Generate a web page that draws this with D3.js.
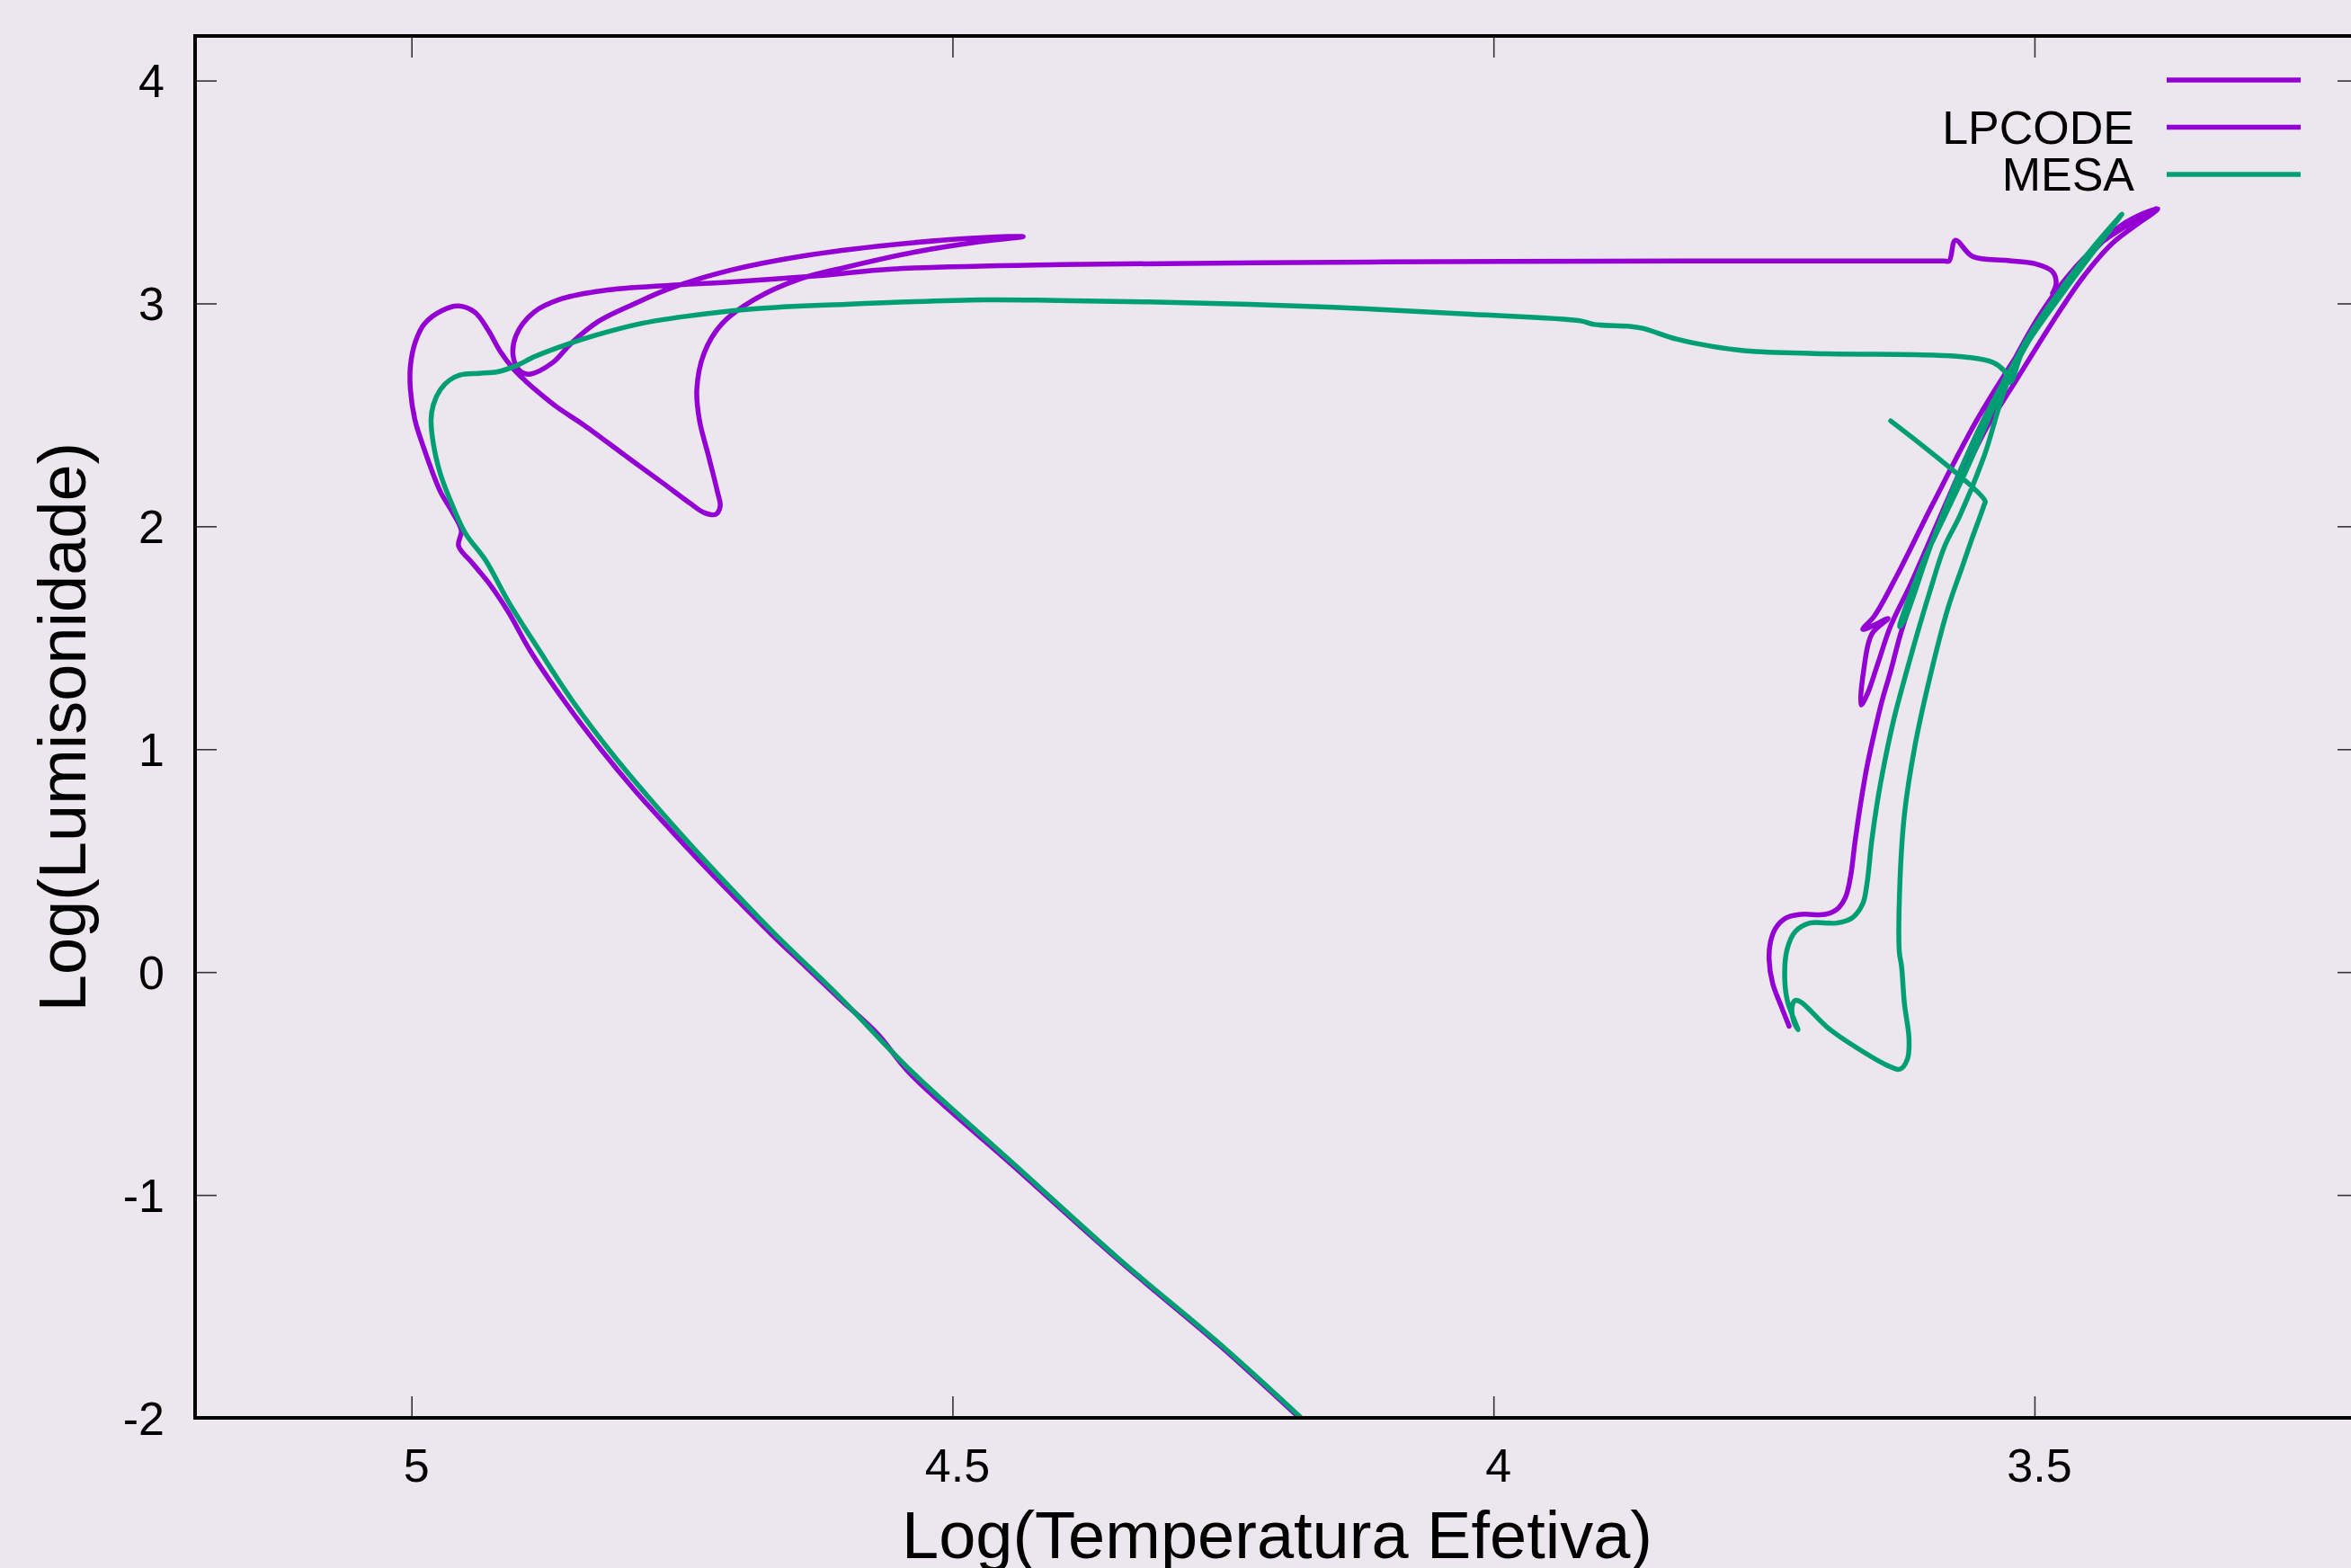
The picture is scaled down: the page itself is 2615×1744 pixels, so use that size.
<!DOCTYPE html>
<html>
<head>
<meta charset="utf-8">
<script src="https://cdn.jsdelivr.net/npm/d3@7"></script>
<style>
  html, body { margin: 0; padding: 0; background: #ece7ef; }
  text { font-family: "Liberation Sans", Arial, sans-serif; fill: #000; }
</style>
</head>
<body>
<div id="chart"></div>
<script>
/* Data: [log Teff, log L] */
var trackUnlabeled = [
  [3.7268,-0.2427],[3.7337,-0.1581],[3.7420,-0.0500],[3.7453,0.0581],[3.7440,0.1351],
  [3.7393,0.1968],[3.7295,0.2431],[3.7157,0.2589],[3.6936,0.2589],[3.6825,0.2818],
  [3.6747,0.3359],[3.6700,0.4286],[3.6659,0.5827],[3.6603,0.7677],[3.6548,0.9222],
  [3.6479,1.0766],[3.6410,1.2153],[3.6327,1.3544],[3.6243,1.5085],[3.6132,1.6786],
  [3.6022,1.8480],[3.5855,2.0415],[3.5648,2.2431],[3.5440,2.4448],[3.5191,2.6383],
  [3.4833,2.9165],[3.4551,3.1181],[3.4277,3.2714],[3.3861,3.4246],
  [3.4193,3.3520],[3.4692,3.1020],[3.5108,2.8077],[3.5523,2.4851],[3.5938,2.1020],
  [3.6271,1.7794],[3.6479,1.5980],[3.6587,1.5375],[3.6479,1.5577],[3.6354,1.5859],
  [3.6503,1.5173],[3.6578,1.3560],[3.6603,1.1988],[3.6545,1.2472],[3.6437,1.4004],
  [3.6329,1.5536],[3.6146,1.7391],[3.5855,2.0617],[3.5523,2.4246],[3.5249,2.6907],
  [3.4966,2.9367],[3.4692,3.1222],[3.4418,3.2593],[3.4111,3.3601],[3.3878,3.4246]
];

var trackLpcode = [
  [3.4833,3.0456],[3.4800,3.0899],[3.4833,3.1423],[3.5000,3.1786],[3.5249,3.1927],
  [3.5573,3.2109],[3.5731,3.2835],[3.5789,3.1907],[3.5840,3.1907],[3.6271,3.1907],
  [3.8016,3.1907],
  [3.9894,3.1887],[4.2170,3.1827],[4.3998,3.1746],[4.5560,3.1544],[4.6192,3.1262],
  [4.6998,3.0980],[4.7596,3.0818],[4.8228,3.0577],[4.8610,3.0214],[4.8867,2.9609],
  [4.9034,2.8560],[4.9059,2.7593],[4.8992,2.6948],[4.8909,2.6827],[4.8693,2.7351],
  [4.8527,2.8198],[4.8269,2.9206],[4.7928,3.0012],[4.7596,3.0698],[4.7039,3.1504],
  [4.6408,3.2109],[4.5560,3.2633],[4.4713,3.2956],[4.4347,3.2996],[4.4713,3.2794],
  [4.5344,3.2310],[4.5984,3.1625],[4.6408,3.1101],[4.6832,3.0173],[4.7131,2.9085],
  [4.7297,2.7754],[4.7363,2.6141],[4.7339,2.4770],[4.7255,2.3157],[4.7172,2.1544],
  [4.7147,2.0899],[4.7189,2.0536],[4.7297,2.0617],[4.7422,2.1020],[4.7679,2.1948],
  [4.8020,2.3157],[4.8402,2.4528],[4.8651,2.5335],[4.8818,2.5980],[4.8951,2.6544],
  [4.9059,2.7069],[4.9183,2.7875],[4.9291,2.8802],[4.9416,2.9609],[4.9565,2.9891],
  [4.9715,2.9690],[4.9881,2.9085],[4.9964,2.8278],[5.0010,2.7190],[5.0010,2.6141],
  [4.9968,2.4770],[4.9881,2.3440],[4.9732,2.1544],[4.9624,2.0657],[4.9540,1.9810],
  [4.9565,1.9125],[4.9432,1.8318],[4.9275,1.7391],[4.9108,1.6181],[4.8892,1.4327],
  [4.8568,1.2028],[4.8253,1.0012],[4.7937,0.8157],[4.7621,0.6464],[4.7297,0.4770],
  [4.6981,0.3198],[4.6666,0.1665],[4.6350,0.0214],[4.6034,-0.1238],[4.5693,-0.2770],
  [4.5394,-0.4544],[4.4439,-0.8698],[4.3483,-1.2851],[4.2528,-1.6762],[4.1796,-1.9988]
];

var trackMesa = [
  [3.6329,2.4730],[3.5457,2.1141],[3.5467,2.0940],[3.5581,1.9407],[3.5667,1.8198],
  [3.5800,1.6323],[3.5966,1.3238],[3.6105,1.0149],[3.6202,0.7068],[3.6244,0.3976],
  [3.6249,0.0899],[3.6229,0.0274],[3.6202,-0.1423],[3.6160,-0.2972],[3.6174,-0.3899],
  [3.6244,-0.4359],[3.6354,-0.4202],[3.6631,-0.3431],[3.6908,-0.2504],[3.7158,-0.1347],
  [3.7212,-0.1270],[3.7241,-0.1581],[3.7226,-0.2198],[3.7185,-0.2585],[3.7285,-0.1270],
  [3.7309,-0.0028],[3.7285,0.1044],[3.7212,0.1814],[3.7077,0.2202],[3.6828,0.2202],
  [3.6686,0.2431],[3.6589,0.3048],[3.6548,0.3976],[3.6506,0.5827],[3.6451,0.7677],
  [3.6381,0.9528],[3.6298,1.1383],[3.6188,1.3387],[3.6080,1.5242],[3.5966,1.7093],
  [3.5831,1.9097],[3.5689,2.0484],[3.5465,2.3157],[3.5249,2.6464],[3.4966,2.9044],
  [3.4692,3.1060],[3.4468,3.2452],[3.4193,3.4004],
  [3.4526,3.2109],[3.5024,2.8681],[3.5523,2.4246],[3.5938,1.9407],[3.6204,1.5778],
  [3.6246,1.5496],[3.6047,1.8198],[3.5855,2.0214],[3.5631,2.2512],[3.5357,2.5577],
  [3.5083,2.8278],[3.4775,3.0496],[3.4443,3.2512],[3.4193,3.4004],
  [3.4692,3.0778],[3.5108,2.7875],[3.5224,2.6464],[3.5282,2.6988],[3.5382,2.7351],
  [3.5631,2.7593],[3.5889,2.7673],[3.7035,2.7754],[3.7667,2.7875],[3.7987,2.8077],
  [3.8307,2.8399],[3.8622,2.8883],[3.8747,2.8976],[3.9067,2.9056],[3.9196,2.9218],
  [4.0212,2.9516],[4.1484,2.9823],[4.2755,3.0024],[4.4027,3.0133],[4.4713,3.0161],
  [4.5984,2.9960],[4.6832,2.9758],[4.7466,2.9419],[4.7890,2.9085],[4.8314,2.8548],
  [4.8653,2.8008],[4.8865,2.7605],[4.9034,2.7202],[4.9204,2.6935],[4.9374,2.6867],
  [4.9543,2.6798],[4.9649,2.6556],[4.9734,2.6129],[4.9798,2.5456],[4.9819,2.4782],
  [4.9798,2.3710],[4.9734,2.2363],[4.9629,2.1020],[4.9501,1.9677],[4.9316,1.8480],
  [4.9100,1.6585],[4.8826,1.4488],[4.8510,1.2149],[4.8128,0.9690],[4.7779,0.7673],
  [4.7297,0.5052],[4.6666,0.1827],[4.6051,-0.1077],[4.5369,-0.4504],[4.4414,-0.8698],
  [4.3467,-1.2851],[4.2511,-1.6762],[4.1780,-1.9988]
];

var seriesNames = ["", "LPCODE", "MESA"];
var seriesColors = ["#9400d3", "#9400d3", "#009e73"];
var xTicks = [5, 4.5, 4, 3.5];
var yTicks = [4, 3, 2, 1, 0, -1, -2];

/* Layout (note: "top" is a reserved window global, so prefix everything) */
var width = 2615,
    height = 1744,
    plotLeft = 217,
    plotRight = 2624,
    plotTop = 40,
    plotBottom = 1577,
    tickLen = 24,
    fontSize = 52;

var x = d3.scaleLinear().domain([5.2, 3.2]).range([plotLeft, plotRight]);
var y = d3.scaleLinear().domain([-2, 4.2]).range([plotBottom, plotTop]);

var svg = d3.select("#chart").append("svg")
    .attr("width", width)
    .attr("height", height)
    .attr("viewBox", "0 0 " + width + " " + height);

svg.append("rect")
  .attr("width", width)
  .attr("height", height)
  .attr("fill", "#ece7ef");

svg.append("clipPath")
  .attr("id", "plot-clip")
  .append("rect")
  .attr("x", plotLeft)
  .attr("y", plotTop)
  .attr("width", plotRight - plotLeft)
  .attr("height", plotBottom - plotTop);

/* Axes: ticks drawn inward, mirrored on top and right */
function styleAxis(g) {
  g.select(".domain").remove();
  g.selectAll(".tick line").attr("stroke", "#333").attr("stroke-width", 1.6);
  g.selectAll(".tick text")
    .attr("font-size", fontSize)
    .attr("font-family", "'Liberation Sans', Arial, sans-serif")
    .attr("fill", "#000");
}

svg.append("g")
  .attr("transform", "translate(0," + plotBottom + ")")
  .call(d3.axisBottom(x).tickValues(xTicks).tickSize(-tickLen).tickPadding(34)
    .tickFormat(d3.format("")))
  .call(styleAxis)
  .selectAll(".tick text").attr("dx", 5);

svg.append("g")
  .attr("transform", "translate(0," + plotTop + ")")
  .call(d3.axisTop(x).tickValues(xTicks).tickSize(-tickLen).tickFormat(""))
  .call(styleAxis);

svg.append("g")
  .attr("transform", "translate(" + plotLeft + ",0)")
  .call(d3.axisLeft(y).tickValues(yTicks).tickSize(-tickLen).tickPadding(34)
    .tickFormat(function(d) { return String(d); }))
  .call(styleAxis)
  .selectAll(".tick text").attr("dy", "0.35em");

svg.append("g")
  .attr("transform", "translate(" + plotRight + ",0)")
  .call(d3.axisRight(y).tickValues(yTicks).tickSize(-tickLen).tickFormat(""))
  .call(styleAxis);

/* Tracks (smoothed a little, the originals are dense model outputs) */
var line = d3.line()
    .curve(d3.curveCatmullRom.alpha(0.5))
    .x(function(d) { return x(d[0]); })
    .y(function(d) { return y(d[1]); });

var tracks = [trackUnlabeled, trackLpcode, trackMesa];

svg.append("g")
  .attr("clip-path", "url(#plot-clip)")
  .selectAll("path")
  .data(tracks)
  .enter().append("path")
  .attr("fill", "none")
  .attr("stroke", function(d, i) { return seriesColors[i]; })
  .attr("stroke-width", 5.5)
  .attr("stroke-linejoin", "round")
  .attr("stroke-linecap", "round")
  .attr("d", line);

/* Border */
svg.append("rect")
  .attr("x", plotLeft)
  .attr("y", plotTop)
  .attr("width", plotRight - plotLeft)
  .attr("height", plotBottom - plotTop)
  .attr("fill", "none")
  .attr("stroke", "#000")
  .attr("stroke-width", 4);

/* Legend */
var legend = svg.append("g");
seriesNames.forEach(function(name, i) {
  var ly = 89 + i * 52.5;
  legend.append("line")
    .attr("x1", 2410).attr("x2", 2559)
    .attr("y1", ly).attr("y2", ly)
    .attr("stroke", seriesColors[i])
    .attr("stroke-width", 5.5);
  legend.append("text")
    .attr("x", 2374)
    .attr("y", ly + 18)
    .attr("text-anchor", "end")
    .attr("font-size", fontSize)
    .text(name);
});

/* Axis titles */
svg.append("text")
  .attr("x", (plotLeft + plotRight) / 2)
  .attr("y", 1733)
  .attr("text-anchor", "middle")
  .attr("font-size", 74)
  .text("Log(Temperatura Efetiva)");

svg.append("text")
  .attr("transform", "translate(95," + ((plotTop + plotBottom) / 2) + ") rotate(-90)")
  .attr("text-anchor", "middle")
  .attr("font-size", 74)
  .text("Log(Lumisonidade)");
</script>
</body>
</html>
